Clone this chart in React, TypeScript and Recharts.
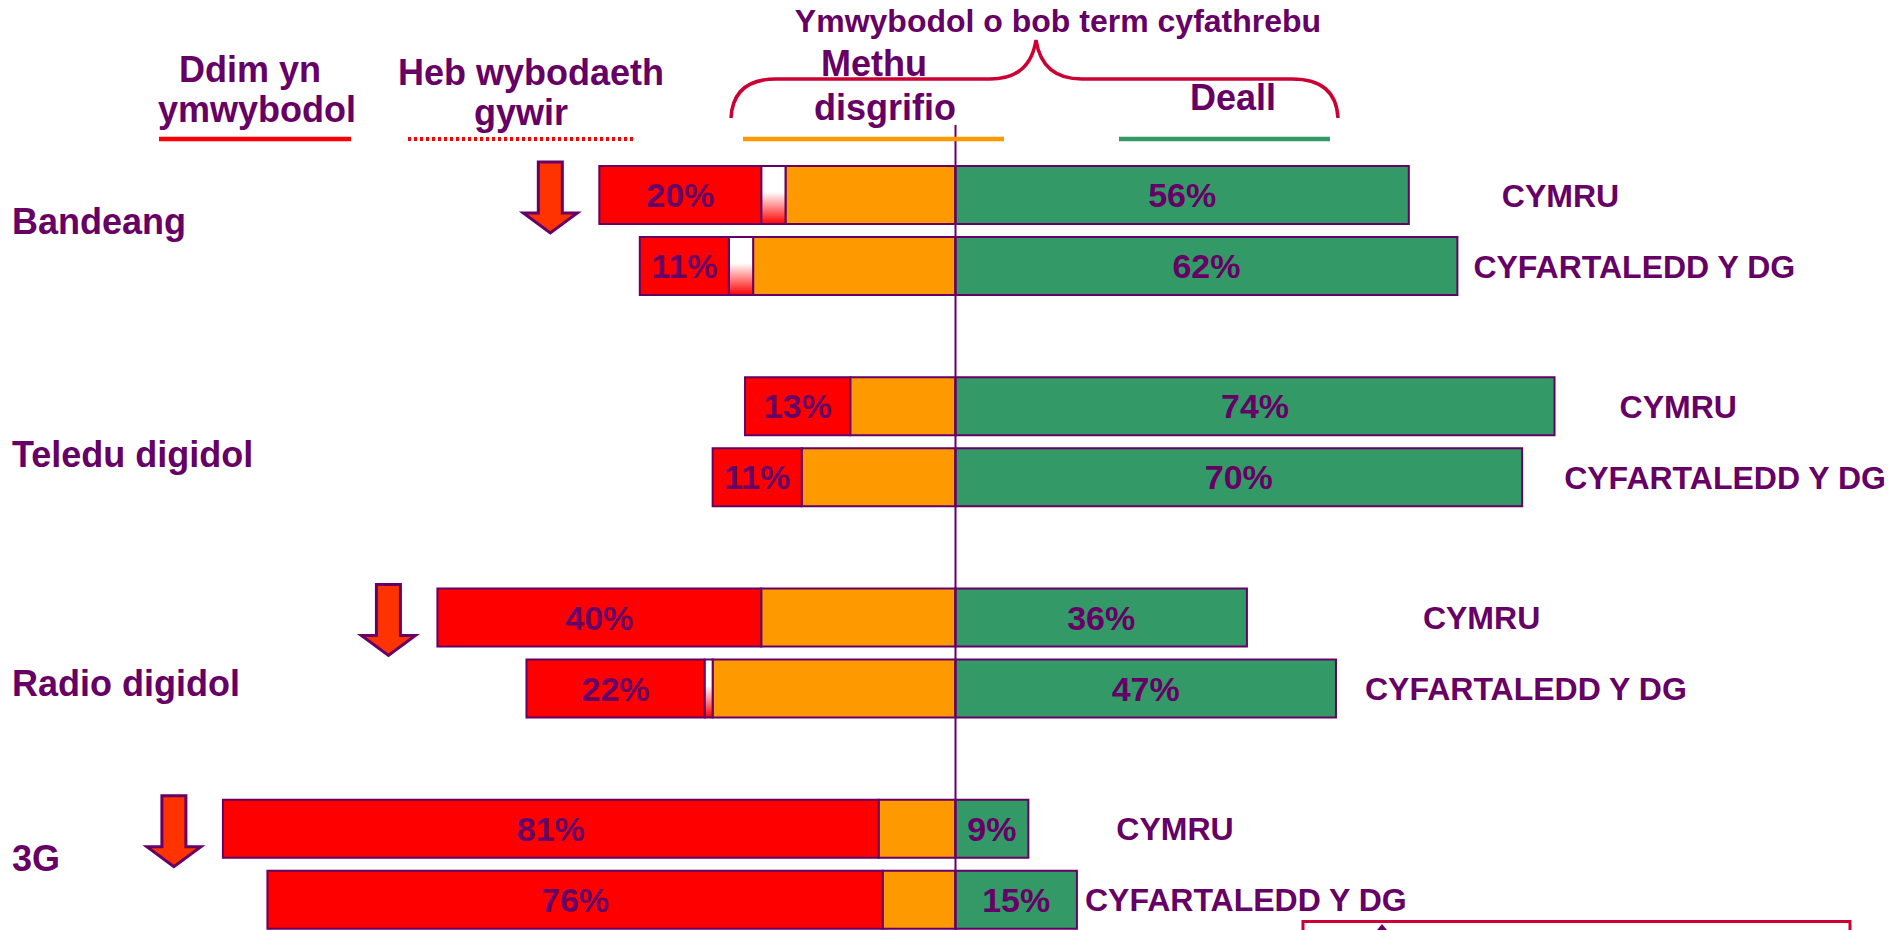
import React from 'react';
import { BarChart, Bar, XAxis, YAxis, ReferenceLine, LabelList } from 'recharts';

const categories = ['Bandeang', 'Teledu digidol', 'Radio digidol', '3G'];
const seriesNames = ['CYMRU', 'CYFARTALEDD Y DG'];

// Ddim yn ymwybodol
const notAwareCymru = [20, 13, 40, 81];
const notAwareUk = [11, 11, 22, 76];
// Heb wybodaeth gywir
const noInfoCymru = [3, 0, 0, 0];
const noInfoUk = [3, 0, 1, 0];
// Methu disgrifio
const cannotDescribeCymru = [21, 13, 24, 9.5];
const cannotDescribeUk = [25, 19, 30, 9];
// Deall
const understandCymru = [56, 74, 36, 9];
const understandUk = [62, 70, 47, 15];
// Cymru behind the UK average -> down arrow
const arrowFlags = [true, false, true, true];

// left side stacks outward from the centre line, so those go negative
const rows = categories.map((cat, i) => ({
  cat,
  cyOrange: -cannotDescribeCymru[i],
  cyWhite: -noInfoCymru[i],
  cyRed: -notAwareCymru[i],
  cyGreen: understandCymru[i],
  ukOrange: -cannotDescribeUk[i],
  ukWhite: -noInfoUk[i],
  ukRed: -notAwareUk[i],
  ukGreen: understandUk[i],
  arrow: arrowFlags[i],
}));

const PURPLE = '#660066';
const RED = '#FF0000';
const ORANGE = '#FF9900';
const GREEN = '#339966';
const BRACE = '#CC0033';
const FONT = '"Liberation Sans", Arial, sans-serif';

// label placement tweaks (the original slide is hand-placed)
const catLabelShift = [-10, 12, 30, -6];
const nameGapCymru = [93, 65, 176, 88];
const nameGapUk = [16, 42, 29, 8];

const pct = (v: any) => `${Math.abs(Number(v))}%`;

const box = (p: any) => {
  const vb = p.viewBox || p;
  const x = Number(vb.x), w = Number(vb.width);
  return { left: Math.min(x, x + w), right: Math.max(x, x + w), y: Number(vb.y), h: Math.abs(Number(vb.height)) };
};

const nameLabel = (name: string, gaps: number[]) => (p: any) => {
  const b = box(p);
  const i = p.index ?? 0;
  return (
    <text x={b.right + gaps[i]} y={b.y + b.h / 2 + 11.5} fill={PURPLE} fontSize={32} fontWeight="bold" fontFamily={FONT}>
      {name}
    </text>
  );
};

const arrowMark = (p: any) => {
  const i = p.index ?? 0;
  if (!rows[i] || !rows[i].arrow) return null;
  const b = box(p);
  const cx = b.left - 49;
  const t = b.y - 4;
  const pts = [
    [cx - 12, t], [cx + 12, t], [cx + 12, t + 51], [cx + 27, t + 51],
    [cx, t + 71], [cx - 27, t + 51], [cx - 12, t + 51],
  ].map((q) => q.join(',')).join(' ');
  return <polygon points={pts} fill="#FF3300" stroke={PURPLE} strokeWidth={3} strokeLinejoin="miter" />;
};

const CategoryTick = (p: any) => {
  const name = String(p.payload?.value ?? '');
  let idx = categories.indexOf(name);
  if (idx < 0) idx = p.index ?? 0;
  return (
    <text x={12} y={Number(p.y) + (catLabelShift[idx] ?? 0) + 13} fill={PURPLE} fontSize={36} fontWeight="bold" fontFamily={FONT}>
      {name}
    </text>
  );
};

const CentreLine = (p: any) => (
  <line x1={p.x1} x2={p.x2} y1={p.y1 + 35} y2={p.y2} stroke={PURPLE} strokeWidth={2} />
);

const valueLabel = (key: string) => (
  <LabelList dataKey={key} position="center" formatter={pct} fill={PURPLE} fontSize={34} fontWeight="bold" fontFamily={FONT} />
);

const barStroke = { stroke: PURPLE, strokeWidth: 2 };

function Header() {
  const t = { fill: PURPLE, fontWeight: 'bold' as const, fontFamily: FONT, textAnchor: 'middle' as const };
  return (
    <svg width={1889} height={930} style={{ position: 'absolute', left: 0, top: 0, pointerEvents: 'none' }}>
      <text x={1058} y={32} fontSize={32} {...t}>Ymwybodol o bob term cyfathrebu</text>
      <path
        d="M731,118 Q733,79 776,79 L990,79 Q1030,79 1036,40 Q1042,79 1082,79 L1292,79 Q1336,79 1338,118"
        fill="none" stroke={BRACE} strokeWidth={3.5}
      />
      <text x={250} y={82} fontSize={36} {...t}>Ddim yn</text>
      <text x={257} y={122} fontSize={36} {...t}>ymwybodol</text>
      <text x={531} y={85} fontSize={36} {...t}>Heb wybodaeth</text>
      <text x={521} y={125} fontSize={36} {...t}>gywir</text>
      <text x={874} y={76} fontSize={36} {...t}>Methu</text>
      <text x={885} y={120} fontSize={36} {...t}>disgrifio</text>
      <text x={1233} y={110} fontSize={36} {...t}>Deall</text>
      <line x1={159} x2={351} y1={139} y2={139} stroke={RED} strokeWidth={4.5} />
      <line x1={408} x2={635} y1={139} y2={139} stroke={RED} strokeWidth={4} strokeDasharray="3 3" />
      <line x1={743} x2={1004} y1={139} y2={139} stroke={ORANGE} strokeWidth={4.5} />
      <line x1={1119} x2={1330} y1={139} y2={139} stroke={GREEN} strokeWidth={4.5} />
      <rect x={1303} y={921.5} width={547} height={40} fill="none" stroke={BRACE} strokeWidth={3} />
      <polygon points="1377,930 1382,924 1387,930" fill={PURPLE} />
    </svg>
  );
}

export default function App() {
  return (
    <div style={{ position: 'absolute', left: 0, top: 0, width: 1889, height: 930, overflow: 'hidden', background: '#fff' }}>
      <svg width={0} height={0} style={{ position: 'absolute' }}>
        <defs>
          <linearGradient id="noInfoFill" x1="0" y1="0" x2="0" y2="1">
            <stop offset="0" stopColor="#ffffff" />
            <stop offset="0.45" stopColor="#ffffff" />
            <stop offset="1" stopColor={RED} />
          </linearGradient>
        </defs>
      </svg>
      <BarChart
        width={1889}
        height={1000}
        data={rows}
        layout="vertical"
        stackOffset="sign"
        barSize={58}
        barGap={13}
        margin={{ top: 125, right: 124, bottom: 30, left: 145 }}
      >
        <XAxis type="number" domain={[-100, 100]} allowDataOverflow hide />
        <YAxis type="category" dataKey="cat" width={1} axisLine={false} tickLine={false} interval={0} tick={CategoryTick} />

        <Bar dataKey="cyOrange" stackId="cy" fill={ORANGE} {...barStroke} isAnimationActive={false} />
        <Bar dataKey="cyWhite" stackId="cy" fill="url(#noInfoFill)" {...barStroke} isAnimationActive={false} />
        <Bar dataKey="cyRed" stackId="cy" fill={RED} {...barStroke} isAnimationActive={false}>
          {valueLabel('cyRed')}
          <LabelList dataKey="cyRed" content={arrowMark} />
        </Bar>
        <Bar dataKey="cyGreen" stackId="cy" fill={GREEN} {...barStroke} isAnimationActive={false}>
          {valueLabel('cyGreen')}
          <LabelList dataKey="cyGreen" content={nameLabel(seriesNames[0], nameGapCymru)} />
        </Bar>

        <Bar dataKey="ukOrange" stackId="uk" fill={ORANGE} {...barStroke} isAnimationActive={false} />
        <Bar dataKey="ukWhite" stackId="uk" fill="url(#noInfoFill)" {...barStroke} isAnimationActive={false} />
        <Bar dataKey="ukRed" stackId="uk" fill={RED} {...barStroke} isAnimationActive={false}>
          {valueLabel('ukRed')}
        </Bar>
        <Bar dataKey="ukGreen" stackId="uk" fill={GREEN} {...barStroke} isAnimationActive={false}>
          {valueLabel('ukGreen')}
          <LabelList dataKey="ukGreen" content={nameLabel(seriesNames[1], nameGapUk)} />
        </Bar>

        <ReferenceLine x={0} shape={CentreLine} />
      </BarChart>
      <Header />
    </div>
  );
}
